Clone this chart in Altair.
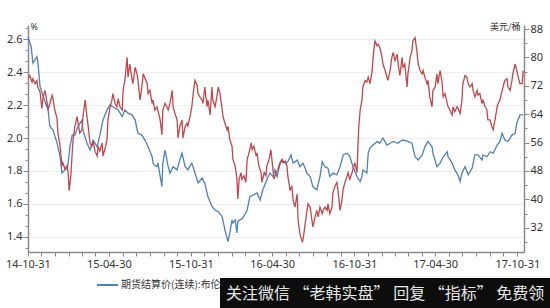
import altair as alt
import pandas as pd

START = pd.Timestamp("2014-10-31")
END = pd.Timestamp("2017-11-15")

BLUE_NAME = "期货结算价(连续):布伦特原油"
RED_NAME = "美国:国债收益率:10年"
BLUE = "#4F7FBC"
RED = "#C2474A"

# Brent (right axis, USD/bbl): days after 2014-10-31, value
blue_days = [0, 7, 11, 20, 22, 27, 34, 45, 49, 56, 65, 72, 76, 83, 89, 94, 99, 105, 112, 121,
             123, 132, 139, 146, 155, 161, 168, 177, 184, 190, 202, 211, 217, 224, 233, 240, 246, 255, 262, 269,
             278, 280, 284, 289, 291, 300, 302, 307, 314, 318, 325, 334, 340, 345, 352, 358, 367, 374, 381, 390,
             396, 403, 412, 419, 426, 435, 441, 448, 452, 457, 459, 464, 468, 470, 475, 481, 491, 497, 504, 513,
             520, 526, 535, 542, 549, 553, 558, 564, 569, 576, 582, 589, 594, 603, 609, 616, 625, 632, 638, 647,
             654, 659, 665, 672, 676, 683, 692, 699, 706, 715, 721, 728, 737, 744, 748, 750, 759, 762, 766, 773,
             782, 788, 795, 804, 811, 818, 829, 833, 840, 851, 860, 867, 874, 883, 889, 896, 905, 907, 916, 923,
             930, 939, 941, 950, 956, 963, 968, 972, 979, 986, 995, 1001, 1008, 1017, 1019, 1028, 1035, 1042, 1051, 1057,
             1062, 1068, 1075, 1084, 1091, 1095, 1102, 1109]
blue_vals = [85.8, 83, 78.4, 80.2, 78.8, 71.8, 69, 65.2, 60.5, 59.5, 55.9, 52, 47.4, 48.3, 49.2, 54.8, 58.1, 58.1, 60.5, 62.4,
             59.5, 55.9, 53.9, 56.7, 54.8, 58.1, 62.4, 65.2, 66.6, 66.1, 65.2, 63.3, 65.2, 64.3, 63.8, 62.4, 58.7, 58.1, 56.7, 54.8,
             52, 50.2, 49.5, 49.2, 50.2, 43.6, 50.2, 53.9, 49.2, 47.4, 49.2, 48.3, 51.1, 53, 49.2, 48.3, 50.2, 47.4, 44.6, 46,
             44.5, 40.8, 38, 37, 36.5, 35.1, 31.4, 28.1, 30.5, 34.2, 33.3, 34.2, 30.5, 33.8, 34.2, 34.7, 37, 40.8, 41.2, 41.8,
             39.8, 42.7, 45.5, 47.4, 46.4, 48.3, 46.4, 49.7, 51.1, 50.2, 50.6, 52.5, 50.2, 51.1, 49.2, 50.2, 47.4, 46.4, 43.6, 42.7,
             46.4, 50.6, 49.2, 48.8, 46.4, 47.4, 46.9, 49.2, 52.5, 53, 52, 49.2, 46.4, 45, 46.4, 48.3, 47.4, 53, 54.5, 55.3,
             56.3, 55.8, 57.3, 55.3, 55.8, 56.3, 55.8, 56.3, 56.7, 56.3, 55.8, 52, 51.1, 52.5, 54.8, 56.3, 54.8, 53, 49.2, 50.2,
             52, 53.4, 52, 50.2, 48.3, 46.9, 45, 47.4, 49.2, 46.9, 48.8, 52.5, 52.5, 51.1, 52.5, 52, 53.4, 53, 55.3, 56.3,
             58.6, 56.7, 56.3, 58.1, 58.6, 61.5, 63.8, 63.8]

# US 10y yield (left axis, %): days after 2014-10-31, value
red_days = [0, 4, 9, 11, 16, 20, 22, 27, 31, 34, 38, 43, 45, 49, 54, 56, 60, 65, 67, 72,
            76, 78, 83, 87, 90, 92, 96, 99, 101, 105, 110, 112, 116, 121, 123, 128, 132, 134, 139, 143,
            146, 150, 155, 157, 161, 166, 168, 172, 177, 179, 184, 188, 190, 195, 199, 202, 206, 211, 213, 217,
            222, 224, 228, 233, 235, 240, 244, 246, 251, 255, 258, 267, 269, 273, 278, 280, 284, 289, 296, 300,
            302, 307, 311, 314, 318, 323, 325, 329, 334, 336, 340, 345, 347, 352, 356, 358, 363, 367, 370, 374,
            379, 381, 385, 390, 392, 396, 401, 403, 408, 412, 414, 419, 423, 426, 430, 435, 437, 441, 446, 448,
            452, 457, 459, 464, 468, 470, 473, 477, 479, 484, 488, 491, 495, 500, 502, 506, 511, 513, 517, 522,
            524, 529, 533, 535, 540, 544, 547, 551, 556, 560, 564, 569, 571, 576, 580, 582, 587, 591, 594, 598,
            603, 605, 609, 614, 616, 620, 625, 627, 632, 636, 638, 643, 647, 650, 654, 659, 661, 665, 670, 672,
            676, 681, 683, 688, 692, 694, 699, 703, 706, 710, 715, 717, 721, 726, 728, 732, 737, 739, 741, 744,
            748, 750, 755, 759, 762, 766, 771, 773, 777, 782, 784, 788, 793, 795, 800, 804, 806, 811, 815, 818,
            822, 827, 829, 833, 838, 840, 844, 849, 851, 856, 860, 862, 867, 871, 874, 878, 883, 885, 889, 894,
            896, 900, 905, 907, 912, 916, 918, 923, 927, 930, 934, 939, 941, 945, 950, 952, 956, 961, 963, 968,
            972, 974, 979, 983, 986, 990, 995, 997, 1001, 1006, 1008, 1012, 1017, 1019, 1024, 1028, 1030, 1035, 1039, 1042,
            1046, 1051, 1053, 1057, 1062, 1064, 1068, 1073, 1075, 1080, 1084, 1086, 1091, 1095, 1098, 1102, 1107, 1109]
red_vals = [2.36, 2.38, 2.34, 2.36, 2.33, 2.35, 2.31, 2.28, 2.18, 2.25, 2.29, 2.21, 2.17, 2.21, 2.26, 2.24, 2.17, 2.12, 2.03, 1.95,
            1.83, 1.85, 1.81, 1.83, 1.79, 1.68, 1.77, 1.91, 1.99, 2.07, 2.13, 2.09, 2.03, 2.05, 2.13, 2.23, 2.13, 2.09, 1.97, 1.95,
            1.98, 1.92, 1.89, 1.95, 1.92, 1.97, 1.89, 1.93, 1.99, 2.11, 2.19, 2.23, 2.27, 2.21, 2.19, 2.24, 2.19, 2.17, 2.29, 2.35,
            2.49, 2.37, 2.45, 2.36, 2.33, 2.43, 2.39, 2.36, 2.23, 2.31, 2.39, 2.33, 2.27, 2.29, 2.21, 2.23, 2.17, 2.19, 2.11, 2.02,
            2.17, 2.21, 2.19, 2.17, 2.21, 2.29, 2.19, 2.15, 2.11, 2.00, 2.07, 2.11, 2.00, 2.07, 2.09, 2.07, 2.13, 2.19, 2.27, 2.35,
            2.32, 2.27, 2.25, 2.23, 2.21, 2.31, 2.19, 2.23, 2.14, 2.31, 2.23, 2.19, 2.25, 2.31, 2.27, 2.17, 2.13, 2.09, 2.05, 2.07,
            1.99, 1.95, 1.87, 1.83, 1.75, 1.63, 1.75, 1.79, 1.75, 1.77, 1.73, 1.87, 1.91, 1.97, 1.93, 1.95, 1.89, 1.91, 1.83, 1.79,
            1.73, 1.79, 1.77, 1.83, 1.87, 1.93, 1.85, 1.75, 1.79, 1.81, 1.85, 1.87, 1.85, 1.86, 1.83, 1.77, 1.68, 1.71, 1.62, 1.58,
            1.66, 1.50, 1.42, 1.37, 1.38, 1.46, 1.56, 1.60, 1.58, 1.50, 1.46, 1.52, 1.56, 1.52, 1.58, 1.54, 1.56, 1.58, 1.56, 1.60,
            1.54, 1.58, 1.67, 1.71, 1.73, 1.69, 1.56, 1.62, 1.69, 1.73, 1.77, 1.79, 1.75, 1.79, 1.81, 1.85, 1.79, 1.95, 2.07, 2.17,
            2.23, 2.31, 2.35, 2.34, 2.37, 2.33, 2.41, 2.49, 2.59, 2.56, 2.57, 2.55, 2.49, 2.45, 2.41, 2.37, 2.35, 2.41, 2.49, 2.52,
            2.47, 2.51, 2.45, 2.38, 2.49, 2.43, 2.45, 2.31, 2.39, 2.49, 2.53, 2.59, 2.61, 2.53, 2.45, 2.41, 2.39, 2.41, 2.37, 2.33,
            2.35, 2.25, 2.19, 2.29, 2.31, 2.39, 2.33, 2.41, 2.35, 2.25, 2.27, 2.21, 2.19, 2.17, 2.14, 2.19, 2.16, 2.19, 2.18, 2.15,
            2.23, 2.33, 2.38, 2.37, 2.33, 2.31, 2.33, 2.29, 2.25, 2.29, 2.26, 2.27, 2.21, 2.23, 2.19, 2.17, 2.11, 2.11, 2.07, 2.05,
            2.11, 2.19, 2.21, 2.23, 2.29, 2.31, 2.35, 2.36, 2.31, 2.29, 2.35, 2.39, 2.45, 2.41, 2.37, 2.33, 2.33, 2.41]

assert len(blue_days) == len(blue_vals)
assert len(red_days) == len(red_vals)

left_ticks = [1.4, 1.6, 1.8, 2.0, 2.2, 2.4, 2.6]
left_minor = [round(1.4 + i * 0.2 / 3, 4) for i in range(-1, 20) if i % 3 != 0]
right_ticks = [32, 40, 48, 56, 64, 72, 80, 88]
right_minor = [28, 36, 44, 52, 60, 68, 76, 84]
LEFT_DOMAIN = [1.307, 2.687]
RIGHT_DOMAIN = [25.15, 89.13]

BANNER = "关注微信 “老韩实盘” 回复 “指标” 免费领"


def ms(ts):
    return int(ts.value // 10**6)


month_ends = [START + pd.offsets.MonthEnd(i) for i in range(37)]
x_tick_values = [ms(t) for t in month_ends]

df = pd.DataFrame({
    "date": [(START + pd.Timedelta(days=d)).strftime("%Y-%m-%d") for d in blue_days]
            + [(START + pd.Timedelta(days=d)).strftime("%Y-%m-%d") for d in red_days],
    "value": blue_vals + red_vals,
    "series": [BLUE_NAME] * len(blue_vals) + [RED_NAME] * len(red_vals),
})

AXIS_GREY = "#8a8a8a"
LABEL_COLOR = "#333333"
NUM_FONT = "Noto Sans"
CJK_FONT = "Noto Sans CJK SC"

x_enc = alt.X(
    "date:T",
    scale=alt.Scale(type="utc", domain=[ms(START), ms(END)], nice=False),
    axis=alt.Axis(
        values=x_tick_values,
        labelExpr="(utcmonth(datum.value) == 3 || utcmonth(datum.value) == 9) ? utcFormat(datum.value, '%y-%m-%d') : ''",
        labelOverlap=False, labelFlush=False, title=None, grid=False,
        tickSize=4, tickColor=AXIS_GREY, domainColor=AXIS_GREY, domainWidth=1.5, tickWidth=1,
        labelFont=NUM_FONT, labelFontSize=11, labelColor=LABEL_COLOR, labelPadding=2,
    ),
)

color_enc = alt.Color(
    "series:N",
    scale=alt.Scale(domain=[BLUE_NAME, RED_NAME], range=[BLUE, RED]),
    legend=None,
)

base = alt.Chart(df)

blue_line = base.transform_filter(alt.datum.series == BLUE_NAME).mark_line(strokeWidth=1.3).encode(
    x=x_enc,
    y=alt.Y("value:Q", scale=alt.Scale(domain=RIGHT_DOMAIN, nice=False, zero=False),
            axis=alt.Axis(orient="right", values=right_ticks, format="d", grid=False,
                          title="美元/桶", titleAngle=0, titleX=-4, titleY=1, titleAlign="right",
                          titleBaseline="middle", titleFont=CJK_FONT, titleFontSize=9,
                          titleFontWeight="normal", titleColor=LABEL_COLOR,
                          tickSize=5, tickColor=AXIS_GREY, domainColor=AXIS_GREY, domainWidth=1.5,
                          labelFont=NUM_FONT, labelFontSize=11, labelColor=LABEL_COLOR, labelPadding=1)),
    color=color_enc,
)

red_line = base.transform_filter(alt.datum.series == RED_NAME).mark_line(strokeWidth=1.3).encode(
    x=x_enc,
    y=alt.Y("value:Q", scale=alt.Scale(domain=LEFT_DOMAIN, nice=False, zero=False),
            axis=alt.Axis(orient="left", values=left_ticks, format=".1f", grid=True,
                          gridColor="#eeeeee", gridWidth=1,
                          title="%", titleAngle=0, titleX=2, titleY=1, titleAlign="left",
                          titleBaseline="middle", titleFont=NUM_FONT, titleFontSize=9,
                          titleFontWeight="normal", titleColor=LABEL_COLOR,
                          tickSize=5, tickColor=AXIS_GREY, domainColor=AXIS_GREY, domainWidth=1.5,
                          labelFont=NUM_FONT, labelFontSize=11, labelColor=LABEL_COLOR, labelPadding=1)),
    color=color_enc,
)

left_minor_layer = base.transform_filter(alt.datum.series == RED_NAME).mark_point(opacity=0).encode(
    x=x_enc,
    y=alt.Y("value:Q", scale=alt.Scale(domain=LEFT_DOMAIN, nice=False, zero=False),
            axis=alt.Axis(orient="left", values=left_minor, labels=False, domain=False, grid=False,
                          title=None, tickSize=3, tickColor=AXIS_GREY)),
)

right_minor_layer = base.transform_filter(alt.datum.series == BLUE_NAME).mark_point(opacity=0).encode(
    x=x_enc,
    y=alt.Y("value:Q", scale=alt.Scale(domain=RIGHT_DOMAIN, nice=False, zero=False),
            axis=alt.Axis(orient="right", values=right_minor, labels=False, domain=False, grid=False,
                          title=None, tickSize=3, tickColor=AXIS_GREY)),
)

one = alt.Chart(pd.DataFrame({"k": [0]}))

# legend drawn as marks, so that the banner covers its end as in the reference
leg_blue_sym = one.mark_rule(color=BLUE, strokeWidth=2).encode(
    x=alt.value(69), x2=alt.value(90), y=alt.value(260)
)
leg_blue_txt = one.mark_text(align="left", baseline="middle", font=CJK_FONT, fontSize=10,
                             color=LABEL_COLOR).encode(
    x=alt.value(93), y=alt.value(260), text=alt.value(BLUE_NAME)
)

banner_rect = one.mark_rect(color="#0d0d0d").encode(
    x=alt.value(192), x2=alt.value(530), y=alt.value(253), y2=alt.value(290)
)
banner_text = one.mark_text(align="left", baseline="middle", font=CJK_FONT, fontSize=16,
                            color="#e6e6e6").encode(
    x=alt.value(198), y=alt.value(269), text=alt.value(BANNER)
)

chart = alt.layer(
    left_minor_layer, right_minor_layer, blue_line, red_line,
    leg_blue_sym, leg_blue_txt,
    banner_rect, banner_text
).resolve_scale(y="independent").properties(
    width=496, height=227,
    autosize=alt.AutoSizeParams(type="none"),
    padding={"left": 28, "top": 25, "right": 26, "bottom": 56},
    background="white",
).configure_view(stroke=None)

chart.save("out.html", embed_options={"renderer": "svg", "actions": False})
